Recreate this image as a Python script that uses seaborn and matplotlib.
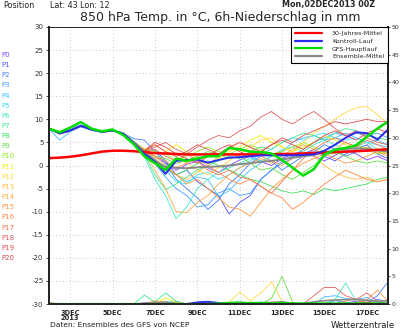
import matplotlib
matplotlib.use("Agg")
import matplotlib.pyplot as plt
import seaborn as sns
import pandas as pd
from matplotlib.lines import Line2D

# ---------------- data ----------------
hours = [0, 12, 24, 36, 48, 60, 72, 84, 96, 108, 120, 132, 144, 156, 168, 180, 192,
         204, 216, 228, 240, 252, 264, 276, 288, 300, 312, 324, 336, 348, 360, 372, 384]

members = ["P0", "P1", "P2", "P3", "P4", "P5", "P6", "P7", "P8", "P9", "P10",
           "P11", "P12", "P13", "P14", "P15", "P16", "P17", "P18", "P19", "P20"]
member_colors = ["#8040ff", "#4a55ff", "#3f7fff", "#3f9fff", "#3fbfff", "#3fdfff",
                 "#3fe8c8", "#3fe890", "#3fe060", "#60e040", "#90f020",
                 "#f0f000", "#ffd840", "#ffc040", "#ffaa40", "#ff9840", "#ff8840",
                 "#f07850", "#e06060", "#e05050", "#e04848"]

temp = {
    "P0":  [8.1, 6.8, 7.4, 8.4, 7.9, 7.1, 7.5, 7.0, 5.2, 3.5, 2.0, 0.5, -1.0, 0.2, 1.0, -0.5, -1.5, 0.0, 1.2, 2.0, 0.8, 0.0, 1.5, 2.5, 3.0, 2.0, 1.0, 2.2, 3.4, 2.5, 1.2, 2.0, 1.0],
    "P1":  [7.9, 7.1, 7.7, 8.7, 7.7, 7.4, 7.7, 6.8, 4.8, 3.0, 3.5, 1.0, -2.0, -1.0, -3.5, -5.0, -6.5, -10.5, -8.0, -6.5, -3.0, -1.0, 0.5, 1.5, 2.5, 3.5, 2.0, 1.0, 2.5, 3.5, 4.5, 2.5, 1.5],
    "P2":  [8.0, 6.9, 7.5, 8.5, 7.8, 7.2, 7.8, 7.0, 5.8, 5.5, 3.0, 0.5, -3.0, -5.0, -7.0, -9.5, -7.5, -4.0, -2.0, 0.5, 2.0, 1.0, -1.0, 0.5, 2.0, 3.0, 4.5, 3.5, 2.0, 3.0, 4.0, 3.0, 2.5],
    "P3":  [8.0, 7.0, 7.6, 8.5, 7.9, 7.3, 7.6, 6.9, 5.1, 3.0, 0.5, -2.5, -5.0, -6.5, -9.0, -8.5, -6.0, -5.0, -6.5, -6.0, -3.0, -1.0, 1.0, 2.0, 3.5, 5.0, 6.0, 7.0, 6.5, 7.0, 6.5, 7.0, 6.0],
    "P4":  [7.9, 5.5, 7.3, 8.4, 7.6, 7.2, 7.5, 6.7, 4.8, 2.5, 1.0, -1.0, -2.0, -3.5, -2.5, -3.0, -6.7, -5.5, -3.0, -1.0, 0.5, 2.0, 3.0, 5.0, 6.0, 6.5, 5.5, 6.0, 7.0, 6.0, 5.0, 5.5, 4.5],
    "P5":  [8.0, 7.1, 7.7, 8.8, 7.8, 7.4, 7.7, 7.0, 5.3, 3.3, 1.5, -1.0, -3.5, -4.0, -2.0, -1.5, -3.0, -2.0, -0.5, 1.0, 2.5, 3.5, 5.0, 6.0, 5.5, 6.5, 7.0, 6.0, 5.5, 6.0, 5.0, 4.5, 4.0],
    "P6":  [8.1, 7.0, 7.6, 8.6, 7.9, 7.3, 7.6, 6.9, 4.9, 2.0, -3.0, -6.5, -11.5, -9.0, -5.0, -3.0, -1.5, -0.5, 0.5, 1.5, 1.0, 2.0, 3.5, 4.0, 3.0, 4.5, 5.5, 4.5, 3.5, 4.0, 5.0, 3.5, 3.0],
    "P7":  [8.0, 7.0, 7.5, 8.6, 7.8, 7.2, 7.6, 6.9, 5.0, 2.5, -2.0, -5.2, -4.0, -2.5, -1.0, 0.0, 1.0, 2.0, 1.5, 3.0, 4.0, 3.5, 5.0, 6.0, 7.0, 6.5, 5.5, 7.0, 8.0, 7.5, 6.5, 6.0, 5.5],
    "P8":  [8.0, 7.0, 7.7, 8.7, 7.8, 7.3, 7.7, 7.0, 5.1, 3.2, 1.0, -0.5, -2.0, -1.0, 0.5, 1.0, 0.0, -1.0, -2.0, -3.0, -3.5, -4.5, -5.5, -6.0, -5.5, -6.3, -5.0, -5.5, -5.0, -4.5, -4.0, -3.0, -2.5],
    "P9":  [7.9, 6.9, 7.6, 8.6, 7.7, 7.3, 7.6, 6.8, 5.0, 3.3, 2.0, 1.5, 0.5, 1.0, 2.0, 3.0, 2.5, 1.5, 2.0, 0.5, -1.0, -0.5, -2.0, -3.0, -1.5, 0.0, 2.0, 3.0, 2.0, 1.0, 0.5, 1.0, 0.5],
    "P10": [8.0, 7.0, 7.6, 8.6, 7.9, 7.3, 7.6, 6.9, 5.0, 3.5, 3.0, 2.5, 1.0, 2.0, 3.0, 4.0, 3.0, 2.5, 3.5, 4.5, 3.5, 2.5, 3.0, 4.0, 5.0, 4.0, 3.0, 2.5, 3.5, 4.5, 3.5, 2.5, 3.0],
    "P11": [8.0, 7.1, 7.5, 8.5, 7.9, 7.4, 7.7, 7.0, 5.2, 3.4, 2.5, 3.0, 4.5, 3.0, 1.5, 0.5, 1.5, 3.0, 4.0, 5.5, 6.5, 5.0, 4.0, 3.0, 4.0, 5.0, 6.5, 5.5, 4.5, 3.5, 4.0, 3.0, 2.5],
    "P12": [8.0, 7.0, 7.6, 8.6, 7.8, 7.3, 7.6, 6.9, 5.0, 3.6, 4.5, 3.0, 2.0, 0.5, -1.0, -2.0, -0.5, 1.0, 2.5, 4.0, 5.5, 6.0, 4.0, 3.0, 5.0, 7.0, 8.5, 10.0, 11.5, 12.5, 12.8, 11.0, 9.0],
    "P13": [8.0, 7.0, 7.6, 8.6, 7.8, 7.3, 7.6, 6.9, 5.0, 3.0, 2.0, 0.0, -2.0, -3.0, -1.5, 0.0, 2.0, 3.5, 5.0, 4.0, 2.0, 1.0, 0.0, 1.5, 3.0, 2.0, 0.0, -1.5, -2.5, -3.0, -2.5, -3.5, -3.0],
    "P14": [8.0, 7.0, 7.6, 8.6, 7.8, 7.3, 7.6, 6.9, 5.0, 2.8, -1.0, -5.0, -10.0, -10.2, -8.0, -6.5, -4.0, -2.0, -0.5, 0.5, 1.5, 0.5, 2.0, 3.5, 4.5, 3.5, 2.5, 3.5, 5.0, 4.0, 3.0, 3.5, 2.5],
    "P15": [8.0, 7.0, 7.6, 8.6, 7.8, 7.3, 7.6, 6.9, 5.0, 3.2, 1.5, -0.5, -2.0, -4.0, -3.0, -5.0, -7.0, -9.0, -9.5, -11.0, -8.0, -5.0, -3.0, -1.0, 0.5, 1.5, 2.5, 1.5, 0.5, 1.0, 2.0, 3.0, 2.0],
    "P16": [8.0, 7.0, 7.6, 8.6, 7.8, 7.3, 7.6, 6.9, 5.0, 3.2, 2.0, 1.0, -0.5, 0.5, 1.5, 0.0, -1.5, -3.0, -4.0, -3.0, -4.5, -6.0, -7.0, -9.5, -8.0, -6.0, -4.0, -2.5, -1.0, -2.0, -3.0, -3.5, -3.0],
    "P17": [8.0, 7.0, 7.6, 8.6, 7.8, 7.3, 7.6, 6.9, 5.0, 3.2, 3.5, 2.0, 1.0, 2.5, 1.0, -1.0, -2.0, -1.0, -2.5, -3.0, -4.5, -6.0, -3.5, -1.0, 1.5, 3.5, 5.0, 6.0, 5.0, 4.0, 5.5, 4.5, 3.5],
    "P18": [8.0, 7.0, 7.6, 8.6, 7.8, 7.3, 7.6, 6.9, 5.0, 3.2, 4.0, 5.0, 3.5, 2.5, 4.0, 5.5, 6.5, 6.0, 7.5, 8.5, 10.5, 11.7, 10.0, 9.0, 10.5, 11.7, 10.0, 8.0, 6.5, 7.5, 6.0, 5.0, 4.5],
    "P19": [8.0, 7.0, 7.6, 8.6, 7.8, 7.3, 7.6, 6.9, 5.0, 3.2, 4.5, 3.0, 2.0, 3.0, 4.5, 3.5, 2.5, 4.0, 5.0, 4.0, 3.0, 4.5, 6.0, 5.0, 6.5, 7.5, 8.5, 9.5, 9.0, 9.5, 10.0, 9.5, 9.5],
    "P20": [8.0, 7.0, 7.6, 8.6, 7.8, 7.3, 7.6, 6.9, 5.0, 3.2, 5.0, 4.0, 2.5, 1.5, 0.5, 2.0, 3.5, 4.5, 3.0, 2.0, 3.0, 4.5, 5.5, 4.5, 3.5, 5.0, 6.5, 7.5, 6.5, 5.5, 7.0, 8.0, 7.0],
}

precip = {
    "P0":  [0, 0, 0, 0, 0, 0, 0, 0, 0, 0.2, 0.4, 0.3, 0, 0, 0, 0, 0, 0, 0, 0, 0, 0, 0, 0, 0, 0, 0, 0, 0.2, 0.5, 0.3, 0, 0.2],
    "P1":  [0, 0, 0, 0, 0, 0, 0, 0, 0, 0, 0, 0, 0, 0, 0, 0, 0, 0, 0, 0, 0, 0, 0, 0, 0, 0, 0, 0, 0, 0, 0.3, 0.8, 0.5],
    "P2":  [0, 0, 0, 0, 0, 0, 0, 0, 0, 0, 0, 0, 0, 0, 0, 0, 0, 0, 0, 0, 0, 0, 0, 0, 0, 0, 0, 0, 0, 0, 0.2, 1.5, 4.0],
    "P3":  [0, 0, 0, 0, 0, 0, 0, 0, 0, 0, 0.3, 0, 0.5, 0, 0, 0, 0, 0, 0, 0, 0, 0, 0, 0, 0, 0, 0, 0.6, 0.3, 0, 0, 0, 0],
    "P4":  [0, 0, 0, 0, 0, 0, 0, 0, 0, 0, 0, 0, 0, 0, 0, 0, 0, 0, 0, 0, 0, 0, 0, 0, 0, 0, 1.3, 1.5, 1.0, 0.8, 1.2, 0.3, 0],
    "P5":  [0, 0, 0, 0, 0, 0, 0, 0, 0, 0, 0, 0.5, 0.3, 0, 0, 0, 0, 0, 0, 0, 0.4, 0, 0, 0, 0, 0, 0, 0, 0, 0, 0, 0, 0],
    "P6":  [0, 0, 0, 0, 0, 0, 0, 0, 0, 0, 0, 0, 0, 0, 0, 0, 0, 0, 0, 0, 0, 0, 0, 0, 0, 0, 0, 0.8, 3.8, 0.5, 0, 0, 0],
    "P7":  [0, 0, 0, 0, 0, 0, 0, 0, 0, 1.6, 0.4, 2.0, 0.5, 0, 0, 0, 0, 0, 0, 0, 0, 0, 0, 0, 0, 0, 0, 0, 0, 0, 0, 0, 0],
    "P8":  [0, 0, 0, 0, 0, 0, 0, 0, 0, 0, 0, 0, 0, 0, 0, 0, 0, 0.3, 0.5, 0.2, 0, 0, 0, 0, 0, 0, 0, 0, 0, 0, 0, 0, 0],
    "P9":  [0, 0, 0, 0, 0, 0, 0, 0, 0, 0, 0, 0, 0, 0, 0, 0, 0, 0, 0, 0, 0, 1.0, 5.0, 0.3, 0, 0, 0, 0, 0, 0, 0, 0, 0],
    "P10": [0, 0, 0, 0, 0, 0, 0, 0, 0, 0, 0, 0, 0.3, 0, 0, 0, 0, 0, 0, 0, 0, 0, 0, 0, 0, 0, 0, 0, 0, 0, 0, 0, 0],
    "P11": [0, 0, 0, 0, 0, 0, 0, 0, 0, 0, 0, 1.1, 0.3, 0, 0, 0, 0, 0, 0, 0, 0, 0, 0, 0, 0, 0, 0, 0, 0, 0, 0, 0, 0],
    "P12": [0, 0, 0, 0, 0, 0, 0, 0, 0, 0, 0, 0, 0, 0, 0, 0, 0, 0.3, 2.2, 0.6, 2.0, 4.0, 0.5, 0, 0, 0, 0, 0, 0, 0, 0, 0, 0],
    "P13": [0, 0, 0, 0, 0, 0, 0, 0, 0, 0, 0.3, 0, 0, 0, 0, 0, 0, 0, 0, 0, 0, 0, 0, 0, 0, 0, 0, 0, 0, 0, 0, 0, 0],
    "P14": [0.3, 0, 0, 0, 0, 0, 0, 0, 0, 0, 0.6, 0.4, 0, 0, 0, 0, 0, 0, 0, 0, 0, 0, 0, 0, 0, 0, 0, 0, 0, 0, 0, 0, 0],
    "P15": [0, 0, 0, 0, 0, 0, 0, 0, 0, 0, 0, 0, 0, 0, 0, 0, 0, 0, 0, 0, 0, 0, 0, 0, 0, 0, 0, 0, 0, 0, 0.8, 2.5, 0.5],
    "P16": [0, 0, 0, 0, 0, 0, 0, 0, 0, 0, 0, 0, 0, 0, 0, 0, 0, 0, 0, 0, 0, 0, 0, 0, 0, 0, 0, 0, 0.5, 1.0, 0, 0, 0],
    "P17": [0, 0, 0, 0, 0, 0, 0, 0, 0, 0, 0, 0, 0, 0, 0, 0, 0, 0, 0, 0, 0, 0, 0, 0, 0, 0, 0, 0, 0, 0.3, 0.6, 0, 0],
    "P18": [0, 0, 0, 0, 0, 0, 0, 0, 0, 0, 0, 0, 0, 0, 0, 0, 0, 0, 0, 0, 0, 0, 0, 0, 0, 1.5, 3.0, 3.0, 1.5, 0.8, 2.0, 0.5, 0],
    "P19": [0, 0, 0, 0, 0, 0, 0, 0, 0, 0, 0, 0, 0, 0, 0, 0, 0, 0, 0, 0, 0, 0, 0, 0, 0, 0, 0, 0, 0, 0, 0.3, 0, 0],
    "P20": [0, 0, 0, 0, 0, 0, 0, 0, 0, 0, 0, 0, 0, 0, 0, 0, 0, 0, 0, 0, 0, 0, 0, 0, 0, 0, 0, 0, 0, 0, 0, 0, 0],
}

control_temp = [8.0, 7.0, 7.6, 8.6, 7.8, 7.3, 7.6, 6.9, 4.8, 2.5, 0.8, -1.8, 1.0, 1.2, 1.3, 0.6, 1.2, 1.7, 1.8, 2.0, 2.2, 2.2, 2.2, 2.2, 2.3, 2.4, 3.2, 4.5, 6.0, 7.2, 7.0, 5.6, 7.8]
main_temp = [8.0, 7.2, 8.2, 9.4, 8.0, 7.4, 7.8, 6.6, 4.6, 2.0, 0.5, -1.0, 1.5, 1.0, 1.5, 2.0, 2.0, 3.8, 3.5, 3.0, 2.9, 2.6, 1.2, -0.5, -2.2, -0.8, 2.4, 3.4, 3.8, 4.4, 6.2, 8.0, 9.5]
mean_temp = [8.0, 6.9, 7.6, 8.6, 7.8, 7.3, 7.6, 6.9, 5.0, 3.0, 1.0, -0.3, -0.5, -0.6, -0.4, -0.3, -0.2, 0.0, 0.3, 0.5, 0.8, 1.0, 1.3, 1.7, 2.0, 2.3, 2.8, 3.3, 3.6, 3.7, 3.6, 3.3, 3.0]
clim_temp = [1.6, 1.7, 1.9, 2.2, 2.6, 3.0, 3.2, 3.2, 3.1, 2.9, 2.7, 2.6, 2.5, 2.4, 2.4, 2.4, 2.4, 2.4, 2.4, 2.4, 2.4, 2.4, 2.5, 2.5, 2.6, 2.7, 2.8, 2.9, 3.0, 3.1, 3.2, 3.4, 3.5]

control_precip = [0, 0, 0, 0, 0, 0, 0, 0, 0, 0, 0, 0, 0, 0, 0.3, 0.4, 0.2, 0, 0, 0, 0, 0, 0, 0, 0, 0, 0, 0, 0, 0, 0, 0, 0]
main_precip = [0, 0, 0, 0, 0, 0, 0, 0, 0, 0, 0, 0, 0, 0, 0, 0, 0.1, 0.2, 0.1, 0.2, 0.2, 0.1, 0.2, 0.1, 0.1, 0.1, 0.1, 0.1, 0.1, 0.1, 0.1, 0.1, 0.1]
mean_precip = [0.1, 0, 0, 0, 0, 0, 0, 0, 0, 0.1, 0.2, 0.3, 0.1, 0, 0, 0.1, 0, 0, 0.2, 0.1, 0.2, 0.3, 0.4, 0.1, 0.1, 0.4, 0.6, 0.7, 0.8, 0.8, 0.7, 0.5, 0.6]

xtick_hours = [24, 72, 120, 168, 216, 264, 312, 360]
xtick_labels = ["3DEC\n2013", "5DEC", "7DEC", "9DEC", "11DEC", "13DEC", "15DEC", "17DEC"]
legend_labels = ["30-Jahres-Mittel", "Kontroll-Lauf", "GFS-Hauptlauf", "Ensemble-Mittel"]

# ---------------- frames ----------------
rows = []
for m in members:
    for h, t, p in zip(hours, temp[m], precip[m]):
        rows.append({"hour": h, "temp": t, "precip": p, "member": m})
df = pd.DataFrame(rows)
det = pd.DataFrame({"hour": hours, "control": control_temp, "main": main_temp,
                    "mean": mean_temp, "clim": clim_temp,
                    "cp": control_precip, "mp": main_precip, "ep": mean_precip})
pal = dict(zip(members, member_colors))

# ---------------- figure ----------------
sns.set_style("white")
plt.rcParams["font.family"] = ["DejaVu Sans"]
fig = plt.figure(figsize=(4.0, 3.33), dpi=100)
ax = fig.add_axes([0.1225, 0.087, 0.8475, 0.832])

sns.lineplot(data=df, x="hour", y="temp", hue="member", hue_order=members,
             palette=pal, lw=0.6, legend=False, ax=ax, estimator=None)
c_red, c_blue, c_green, c_grey = "#ff0000", "#2a2aee", "#00dd00", "#888888"
sns.lineplot(data=det, x="hour", y="mean", color=c_grey, lw=1.4, ax=ax)
sns.lineplot(data=det, x="hour", y="clim", color=c_red, lw=1.8, ax=ax)
sns.lineplot(data=det, x="hour", y="control", color=c_blue, lw=1.4, ax=ax)
sns.lineplot(data=det, x="hour", y="main", color=c_green, lw=1.8, ax=ax)

ax.set_xlim(0, 384)
ax.set_ylim(-30, 30)
ax.set_xlabel("")
ax.set_ylabel("")
ax.set_yticks(range(-30, 31, 5))
ax.set_yticklabels([str(v) for v in range(-30, 31, 5)])
ax.set_xticks(xtick_hours)
ax.set_xticklabels(xtick_labels, fontsize=4.8, fontweight="bold", linespacing=0.9)
ax.tick_params(axis="y", labelsize=5, length=2, width=0.6, pad=2, colors="#333333")
ax.tick_params(axis="x", length=2, width=0.6, pad=2)
for v in range(-25, 30, 5):
    ax.axhline(v, color="#b8b8b8", lw=0.6, ls=(0, (1, 3)), zorder=0)
for h in xtick_hours:
    ax.axvline(h, color="#b8b8b8", lw=0.6, ls=(0, (1, 3)), zorder=0)
for s in ["left", "bottom", "right"]:
    ax.spines[s].set_linewidth(1.4)
    ax.spines[s].set_color("black")
ax.spines["top"].set_linewidth(0.6)
ax.spines["top"].set_color("black")

# precipitation axis
ax2 = ax.twinx()
sns.lineplot(data=df, x="hour", y="precip", hue="member", hue_order=members,
             palette=pal, lw=0.6, legend=False, ax=ax2, estimator=None)
sns.lineplot(data=det, x="hour", y="ep", color=c_grey, lw=1.2, ax=ax2)
sns.lineplot(data=det, x="hour", y="cp", color=c_blue, lw=1.4, ax=ax2)
sns.lineplot(data=det, x="hour", y="mp", color=c_green, lw=1.6, ax=ax2)
ax2.set_ylim(0, 50)
ax2.set_xlim(0, 384)
ax2.set_ylabel("")
ax2.set_yticks(range(0, 51, 5))
ax2.tick_params(axis="y", labelsize=4.5, length=1.5, width=0.6, pad=0.8, colors="#333333")
for s in ["left", "bottom", "right"]:
    ax2.spines[s].set_linewidth(1.4)
ax2.spines["top"].set_linewidth(0.6)

handles = [Line2D([], [], color=c, lw=1.6) for c in [c_red, c_blue, c_green, c_grey]]
leg = ax2.legend(handles, legend_labels, loc="upper right", bbox_to_anchor=(1.0, 1.0),
                 borderaxespad=0, fontsize=4.6, frameon=True, fancybox=False,
                 edgecolor="black", framealpha=1, handlelength=4.2, handletextpad=1.6,
                 labelspacing=0.35, borderpad=0.6)
leg.get_frame().set_linewidth(0.8)

# member labels
for i, (m, c) in enumerate(zip(members, member_colors)):
    fig.text(0.003, 1 - (55 + i * 10.15) / 333, m, color=c, fontsize=5, va="center", ha="left")

fig.text(0.008, 1 - 5 / 333, "Position", fontsize=5.8, va="center", ha="left", color="#222222")
fig.text(0.125, 1 - 5 / 333, "Lat: 43 Lon: 12", fontsize=5.8, va="center", ha="left", color="#222222")
fig.text(0.938, 1 - 5 / 333, "Mon,02DEC2013 00Z", fontsize=5.8, fontweight="bold",
         va="center", ha="right")
fig.text(0.55, 1 - 17.5 / 333, "850 hPa Temp. in \u00b0C, 6h-Niederschlag in mm",
         fontsize=9.0, va="center", ha="center")
fig.text(0.125, 1 - 325 / 333, "Daten: Ensembles des GFS von NCEP", fontsize=5.4,
         va="center", ha="left", color="#222222")
fig.text(0.988, 1 - 325 / 333, "Wetterzentrale", fontsize=6.2, va="center", ha="right",
         color="#222222")

fig.savefig("out.png", dpi=100)
